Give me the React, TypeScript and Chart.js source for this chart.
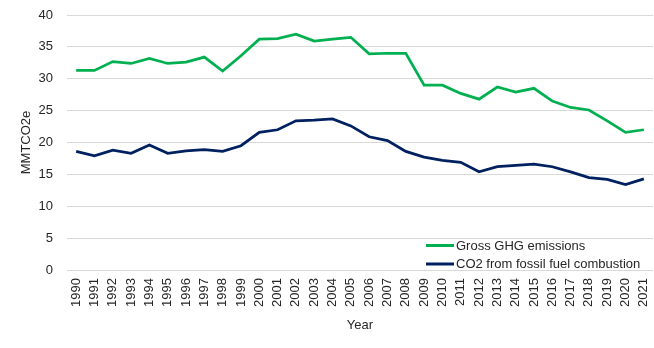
import React, { useEffect, useRef } from "react";
import { Chart, registerables } from "chart.js";

Chart.register(...registerables);

const years = [
  "1990","1991","1992","1993","1994","1995","1996","1997","1998","1999",
  "2000","2001","2002","2003","2004","2005","2006","2007","2008","2009",
  "2010","2011","2012","2013","2014","2015","2016","2017","2018","2019",
  "2020","2021",
];

const grossGHG = [
  31.3, 31.3, 32.7, 32.4, 33.2, 32.4, 32.6, 33.4, 31.2, 33.6,
  36.2, 36.3, 37.0, 35.9, 36.2, 36.5, 33.9, 34.0, 34.0, 29.0,
  29.0, 27.7, 26.8, 28.7, 27.9, 28.5, 26.5, 25.5, 25.1, 23.4,
  21.6, 22.0,
];

const co2Fossil = [
  18.6, 17.9, 18.8, 18.3, 19.6, 18.3, 18.7, 18.9, 18.6, 19.5,
  21.6, 22.0, 23.4, 23.5, 23.7, 22.6, 20.9, 20.3, 18.6, 17.7,
  17.2, 16.9, 15.4, 16.2, 16.4, 16.6, 16.2, 15.4, 14.5, 14.2,
  13.4, 14.3,
];

const seriesNames = ["Gross GHG emissions", "CO2 from fossil fuel combustion"];
const seriesColors = ["#00B050", "#002060"];

const FONT = "'Liberation Sans', Arial, sans-serif";

const insideLegend = {
  id: "insideLegend",
  afterDraw(chart: any) {
    const { ctx, chartArea } = chart;
    const ds = chart.data.datasets;
    ctx.save();
    ctx.font = `13px ${FONT}`;
    ctx.textBaseline = "middle";
    ctx.textAlign = "left";
    const lineX0 = chartArea.left + 359;
    const lineLen = 28;
    const rowH = 18.5;
    const startY = chartArea.bottom - 24.5;
    ds.forEach((d: any, i: number) => {
      const y = startY + i * rowH;
      ctx.strokeStyle = d.borderColor;
      ctx.lineWidth = 3;
      ctx.beginPath();
      ctx.moveTo(lineX0, y);
      ctx.lineTo(lineX0 + lineLen, y);
      ctx.stroke();
      ctx.fillStyle = "#262626";
      ctx.fillText(d.label, lineX0 + lineLen + 2, y + 0.5);
    });
    ctx.restore();
  },
};

export default function App() {
  const ref = useRef<HTMLCanvasElement | null>(null);
  useEffect(() => {
    document.body.style.margin = "0";
    const canvas = ref.current;
    if (!canvas) return;
    const chart = new Chart(canvas, {
      type: "line",
      data: {
        labels: years,
        datasets: [
          {
            label: seriesNames[0],
            data: grossGHG,
            borderColor: seriesColors[0],
            backgroundColor: seriesColors[0],
            borderWidth: 2.75,
            pointRadius: 0,
            tension: 0,
          },
          {
            label: seriesNames[1],
            data: co2Fossil,
            borderColor: seriesColors[1],
            backgroundColor: seriesColors[1],
            borderWidth: 2.75,
            pointRadius: 0,
            tension: 0,
          },
        ],
      },
      options: {
        animation: false,
        responsive: false,
        maintainAspectRatio: false,
        layout: { padding: { top: 15, right: 1, left: 0, bottom: 0 } },
        plugins: {
          legend: { display: false },
          tooltip: { enabled: false },
        },
        scales: {
          x: {
            offset: true,
            grid: { display: false, drawTicks: false },
            border: { display: false },
            ticks: {
              autoSkip: false,
              maxRotation: 90,
              minRotation: 90,
              padding: 8,
              color: "#262626",
              font: { family: FONT, size: 13 },
            },
            title: {
              display: true,
              text: "Year",
              color: "#262626",
              font: { family: FONT, size: 13 },
              padding: { top: 0, bottom: 15 },
            },
            afterFit: (s: any) => {
              s.height = 78;
              s.paddingLeft = 0;
              s.paddingRight = 0;
            },
          },
          y: {
            min: 0,
            max: 40,
            ticks: {
              stepSize: 5,
              padding: 14,
              color: "#262626",
              font: { family: FONT, size: 13 },
            },
            grid: { color: "#d9d9d9", lineWidth: 1, drawTicks: false },
            border: { display: false },
            title: {
              display: true,
              text: "MMTCO2e",
              color: "#262626",
              font: { family: FONT, size: 13 },
              padding: { top: 19, bottom: 0 },
            },
            afterFit: (s: any) => {
              s.width = 67;
              s.paddingTop = 0;
              s.paddingBottom = 0;
            },
          },
        },
      },
      plugins: [insideLegend],
    });
    return () => chart.destroy();
  }, []);
  return <canvas ref={ref} width={654} height={348} style={{ display: "block" }} />;
}
